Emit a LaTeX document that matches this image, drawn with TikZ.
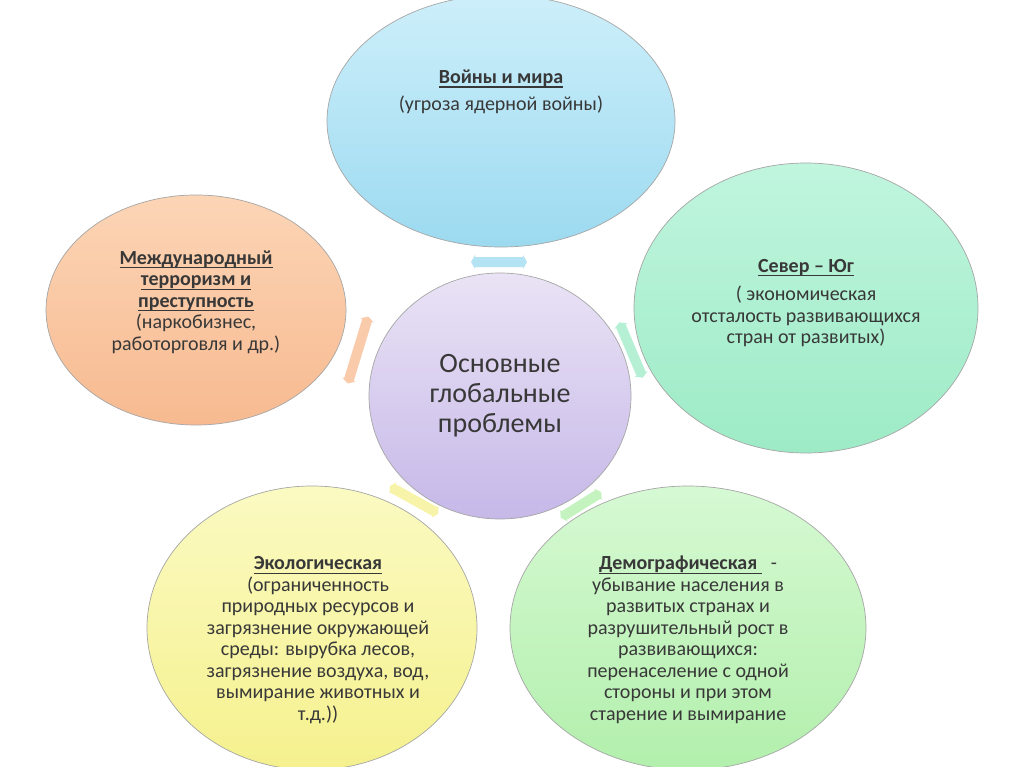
\documentclass[tikz,border=0pt]{standalone}
\usepackage{fontspec}
\setmainfont{Carlito}
\usetikzlibrary{shapes.geometric}
\definecolor{txtc}{HTML}{383838}
\definecolor{blueT}{HTML}{CDEFFA}\definecolor{blueB}{HTML}{9CDAF0}
\definecolor{orT}{HTML}{FCD5B6}\definecolor{orB}{HTML}{F7BA90}
\definecolor{mintT}{HTML}{C0F5DE}\definecolor{mintB}{HTML}{9DEBC6}
\definecolor{yelT}{HTML}{FBFAC2}\definecolor{yelB}{HTML}{F5F18E}
\definecolor{grT}{HTML}{D6F9D3}\definecolor{grB}{HTML}{B2EFAC}
\definecolor{lavT}{HTML}{EAE3F5}\definecolor{lavB}{HTML}{C6B8E8}
\newcommand{\ulbox}[1]{\setbox0\hbox{#1}\rlap{\vrule height -3pt depth 4.3pt width \wd0}\box0}
\newcommand{\hd}[1]{\ulbox{\textbf{#1}}}
\begin{document}
\begin{tikzpicture}[x=1pt,y=-1pt,
  blob/.style={ellipse, draw=black!35, line width=0.7pt, inner sep=0pt},
  txt/.style={align=center, text=txtc, font=\fontsize{20}{21.5}\selectfont, inner sep=0pt}]
\useasboundingbox (0,0) rectangle (1024,767);
\fill[white] (0,0) rectangle (1024,767);
% ellipses
\node[blob, minimum width=348, minimum height=252, top color=blueT, bottom color=blueB] (war) at (501,121) {};
\node[blob, minimum width=300, minimum height=230, top color=orT, bottom color=orB] (terr) at (196,310) {};
\node[blob, minimum width=344, minimum height=290, top color=mintT, bottom color=mintB] (ns) at (806,308) {};
\node[blob, minimum width=330, minimum height=284, top color=yelT, bottom color=yelB] (eco) at (312,628) {};
\node[blob, minimum width=356, minimum height=284, top color=grT, bottom color=grB] (dem) at (688,628) {};
\node[blob, minimum width=262, minimum height=246, top color=lavT, bottom color=lavB] (core) at (500,396) {};
% connectors
\newcommand{\conshape}[4]{%
 \fill[#4, opacity=0.75, shift={(#1)}, rotate=#2]
  (-#3/2,0) -- (-#3/2+4,-7) -- (-#3/2+4,-5) -- (#3/2-4,-5) -- (#3/2-4,-7) -- (#3/2,0)
  -- (#3/2-4,7) -- (#3/2-4,5) -- (-#3/2+4,5) -- (-#3/2+4,7) -- cycle;}
\conshape{499,262}{0}{56}{blueB}
\conshape{358,350}{73}{70}{orB}
\conshape{631,350}{-67}{60}{mintB}
\conshape{414,500}{-29}{56}{yelB}
\conshape{581,505}{32}{48}{grB}
% texts
\node[txt] (warT) at (501,92) {\hd{Войны и мира}\\[6pt](угроза ядерной войны)};
\node[txt] (terrT) at (196,302) {\hd{Международный}\\ \hd{терроризм и}\\ \hd{преступность}\\(наркобизнес,\\работорговля и др.)};
\node[txt] (nsT) at (806,303) {\hd{Север – Юг}\\[7pt]( экономическая\\отсталость развивающихся\\стран от развитых)};
\node[txt] (ecoT) at (318,640) {\hd{Экологическая}\\(ограниченность\\природных ресурсов и\\загрязнение окружающей\\среды: вырубка лесов,\\загрязнение воздуха, вод,\\вымирание животных и\\т.д.))};
\node[txt] (demT) at (688,640) {\ulbox{\textbf{Демографическая}\ }\ \ -\\убывание населения в\\развитых странах и\\разрушительный рост в\\развивающихся:\\перенаселение с одной\\стороны и при этом\\старение и вымирание};
\node[txt, font=\fontsize{28}{30}\selectfont] (coreT) at (500,396) {Основные\\глобальные\\проблемы};
\end{tikzpicture}
\end{document}
